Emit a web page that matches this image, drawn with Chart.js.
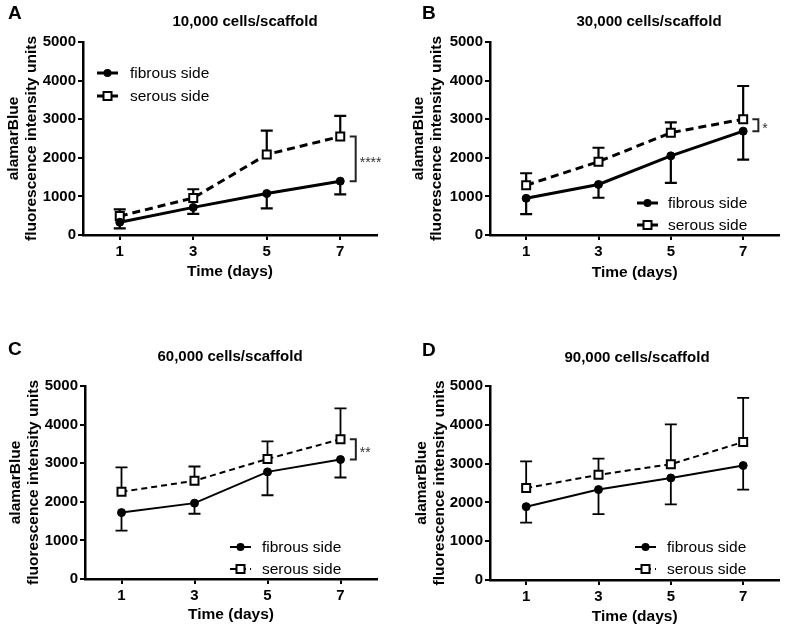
<!DOCTYPE html>
<html>
<head>
<meta charset="utf-8">
<script src="https://cdn.jsdelivr.net/npm/chart.js@4.4.1/dist/chart.umd.min.js"></script>
<style>
  html, body { margin: 0; padding: 0; background: #fff; }
  #wrap { position: relative; width: 787px; height: 630px; }
  canvas { position: absolute; }
</style>
</head>
<body>
<div id="wrap">
  <canvas id="chartA" width="393" height="300" style="left:0;top:0"></canvas>
  <canvas id="chartB" width="394" height="300" style="left:393px;top:0"></canvas>
  <canvas id="chartC" width="393" height="320" style="left:0;top:310px"></canvas>
  <canvas id="chartD" width="394" height="320" style="left:393px;top:310px"></canvas>
</div>
<script>
// values (mean, and the SD shown as one-sided bars)
const days = [1, 3, 5, 7];
const xTicks = [1, 3, 5, 7];
const yTicks = [0, 1000, 2000, 3000, 4000, 5000];
const seriesNames = ['fibrous side', 'serous side'];
const yTitle = ['alamarBlue', 'fluorescence intensity units'];
const xTitle = 'Time (days)';

const fibrousA = [330, 715, 1075, 1395];
const fibrousASd = [160, 170, 385, 345];
const serousA = [490, 960, 2085, 2550];
const serousASd = [175, 225, 620, 535];

const fibrousB = [950, 1310, 2050, 2690];
const fibrousBSd = [410, 345, 700, 735];
const serousB = [1290, 1900, 2650, 3000];
const serousBSd = [310, 360, 270, 860];

const fibrousC = [1720, 1965, 2775, 3095];
const fibrousCSd = [465, 275, 605, 465];
const serousC = [2260, 2545, 3110, 3620];
const serousCSd = [630, 370, 455, 800];

const fibrousD = [1890, 2330, 2630, 2950];
const fibrousDSd = [410, 630, 680, 620];
const serousD = [2370, 2710, 2985, 3555];
const serousDSd = [685, 420, 1025, 1140];

const FONT = 'Arial, "Liberation Sans", Helvetica, sans-serif';

const panels = [
  { id: 'chartA', letter: 'A', title: '10,000 cells/scaffold', fib: fibrousA, fibSd: fibrousASd, ser: serousA, serSd: serousASd, sig: '****',
    pad: { top: 42, right: 16 }, yWidth: 83, xHeight: 65, yTitlePad: 4, xTitlePad: 18.7,
    lw: 3, dash: [8, 5], ebw: 2.2, letterX: 8, letterY: 14, titleX: 245, titleY: 22,
    legend: { x: 97, y: [73, 96], textX: 130 } },
  { id: 'chartB', letter: 'B', title: '30,000 cells/scaffold', fib: fibrousB, fibSd: fibrousBSd, ser: serousB, serSd: serousBSd, sig: '*',
    pad: { top: 42, right: 5 }, yWidth: 97, xHeight: 65, yTitlePad: 16, xTitlePad: 17.7,
    lw: 3, dash: [8, 5], ebw: 2.2, letterX: 29, letterY: 14, titleX: 256, titleY: 22,
    legend: { x: 244, y: [203, 225], textX: 275 } },
  { id: 'chartC', letter: 'C', title: '60,000 cells/scaffold', fib: fibrousC, fibSd: fibrousCSd, ser: serousC, serSd: serousCSd, sig: '**',
    pad: { top: 76, right: 16 }, yWidth: 85, xHeight: 51, yTitlePad: 6, xTitlePad: 5.7,
    lw: 2, dash: [6, 4], ebw: 1.8, letterX: 8, letterY: 40, titleX: 230, titleY: 47,
    legend: { x: 230, y: [237, 259], textX: 262 } },
  { id: 'chartD', letter: 'D', title: '90,000 cells/scaffold', fib: fibrousD, fibSd: fibrousDSd, ser: serousD, serSd: serousDSd, sig: '',
    pad: { top: 76, right: 5 }, yWidth: 97, xHeight: 50, yTitlePad: 19, xTitlePad: 3.7,
    lw: 2, dash: [6, 4], ebw: 1.8, letterX: 29, letterY: 41, titleX: 244, titleY: 48,
    legend: { x: 242, y: [237, 259], textX: 274 } }
];

// one-sided error bars: fibrous downwards, serous upwards
const errorBars = {
  id: 'errorBars',
  beforeDatasetsDraw(chart) {
    const { ctx, scales: { y } } = chart;
    const p = chart.options.plugins.errorBars;
    chart.data.datasets.forEach((ds, i) => {
      const meta = chart.getDatasetMeta(i);
      ctx.save();
      ctx.strokeStyle = '#000';
      ctx.lineWidth = p.width;
      meta.data.forEach((pt, j) => {
        const end = ds.data[j].y + ds.dir * ds.sd[j];
        const yy = y.getPixelForValue(end);
        ctx.beginPath();
        ctx.moveTo(pt.x, pt.y);
        ctx.lineTo(pt.x, yy);
        ctx.moveTo(pt.x - 6, yy);
        ctx.lineTo(pt.x + 6, yy);
        ctx.stroke();
      });
      ctx.restore();
    });
  }
};

function marker(ctx, style, x, y) {
  ctx.save();
  ctx.setLineDash([]);
  ctx.lineWidth = 2;
  ctx.strokeStyle = '#000';
  if (style === 'circle') {
    ctx.fillStyle = '#000';
    ctx.beginPath();
    ctx.arc(x, y, 4, 0, Math.PI * 2);
    ctx.fill();
  } else {
    ctx.fillStyle = '#fff';
    ctx.fillRect(x - 4, y - 4, 8, 8);
    ctx.strokeRect(x - 4, y - 4, 8, 8);
  }
  ctx.restore();
}

const decorations = {
  id: 'decorations',
  afterDraw(chart) {
    const { ctx, scales: { x, y } } = chart;
    const P = chart.options.plugins.decorations.panel;
    ctx.save();
    ctx.fillStyle = '#000';
    ctx.textBaseline = 'middle';
    ctx.font = 'bold 19px ' + FONT;
    ctx.textAlign = 'left';
    ctx.fillText(P.letter, P.letterX, P.letterY);
    ctx.font = 'bold 15px ' + FONT;
    ctx.textAlign = 'center';
    ctx.fillText(P.title, P.titleX, P.titleY);

    // legend
    ctx.font = '15.5px ' + FONT;
    ctx.textAlign = 'left';
    chart.data.datasets.forEach((ds, i) => {
      const ly = P.legend.y[i];
      ctx.save();
      ctx.strokeStyle = '#000';
      ctx.lineWidth = ds.borderWidth;
      ctx.setLineDash(ds.borderDash || []);
      ctx.beginPath();
      ctx.moveTo(P.legend.x, ly);
      ctx.lineTo(P.legend.x + 21, ly);
      ctx.stroke();
      ctx.restore();
      marker(ctx, ds.pointStyle, P.legend.x + 10.5, ly);
      ctx.fillText(ds.label, P.legend.textX, ly + 1);
    });

    // significance bracket at day 7
    if (P.sig) {
      const bx = x.getPixelForValue(7.42);
      const yt = y.getPixelForValue(P.ser[3]);
      const yb = y.getPixelForValue(P.fib[3]);
      ctx.strokeStyle = '#222';
      ctx.lineWidth = 2;
      ctx.beginPath();
      ctx.moveTo(bx - 6, yt);
      ctx.lineTo(bx, yt);
      ctx.lineTo(bx, yb);
      ctx.lineTo(bx - 6, yb);
      ctx.stroke();
      ctx.fillStyle = '#333';
      ctx.font = '14px ' + FONT;
      ctx.fillText(P.sig, bx + 4, (yt + yb) / 2 + 4);
    }
    ctx.restore();
  }
};

panels.forEach(P => {
  const tickFont = { family: FONT, size: 15, weight: 'bold' };
  const titleFont = { family: FONT, size: 15.5, weight: 'bold' };
  new Chart(document.getElementById(P.id), {
    type: 'line',
    data: {
      datasets: [
        {
          label: seriesNames[0],
          data: days.map((d, i) => ({ x: d, y: P.fib[i] })),
          sd: P.fibSd, dir: -1,
          borderColor: '#000', borderWidth: P.lw,
          pointStyle: 'circle', pointRadius: 4,
          pointBackgroundColor: '#000', pointBorderColor: '#000', pointBorderWidth: 1
        },
        {
          label: seriesNames[1],
          data: days.map((d, i) => ({ x: d, y: P.ser[i] })),
          sd: P.serSd, dir: 1,
          borderColor: '#000', borderWidth: P.lw, borderDash: P.dash,
          pointStyle: 'rect', pointRadius: 5.66,
          pointBackgroundColor: '#fff', pointBorderColor: '#000', pointBorderWidth: 2
        }
      ]
    },
    options: {
      responsive: false,
      animation: false,
      layout: { padding: { left: 0, top: P.pad.top, right: P.pad.right, bottom: 0 } },
      plugins: {
        legend: { display: false },
        tooltip: { enabled: false },
        errorBars: { width: P.ebw },
        decorations: { panel: P }
      },
      scales: {
        x: {
          type: 'linear', min: 0, max: 8,
          afterBuildTicks: s => { s.ticks = xTicks.map(v => ({ value: v })); },
          afterFit: s => { s.height = P.xHeight; },
          grid: { drawOnChartArea: false, drawTicks: true, tickLength: 5, color: '#000', lineWidth: 2 },
          border: { display: true, color: '#000', width: 2.5 },
          ticks: { color: '#000', font: tickFont, padding: 3, maxRotation: 0 },
          title: { display: true, text: xTitle, color: '#000', font: titleFont, padding: { top: 0, bottom: P.xTitlePad } }
        },
        y: {
          min: 0, max: 5000,
          afterBuildTicks: s => { s.ticks = yTicks.map(v => ({ value: v })); },
          afterFit: s => { s.width = P.yWidth; },
          grid: { drawOnChartArea: false, drawTicks: true, tickLength: 5, color: '#000', lineWidth: 2 },
          border: { display: true, color: '#000', width: 2.5 },
          ticks: { color: '#000', font: tickFont, padding: 2, callback: v => String(v) },
          title: { display: true, text: yTitle, color: '#000', font: titleFont, padding: { top: P.yTitlePad, bottom: 0 } }
        }
      }
    },
    plugins: [errorBars, decorations]
  });
});
</script>
</body>
</html>
